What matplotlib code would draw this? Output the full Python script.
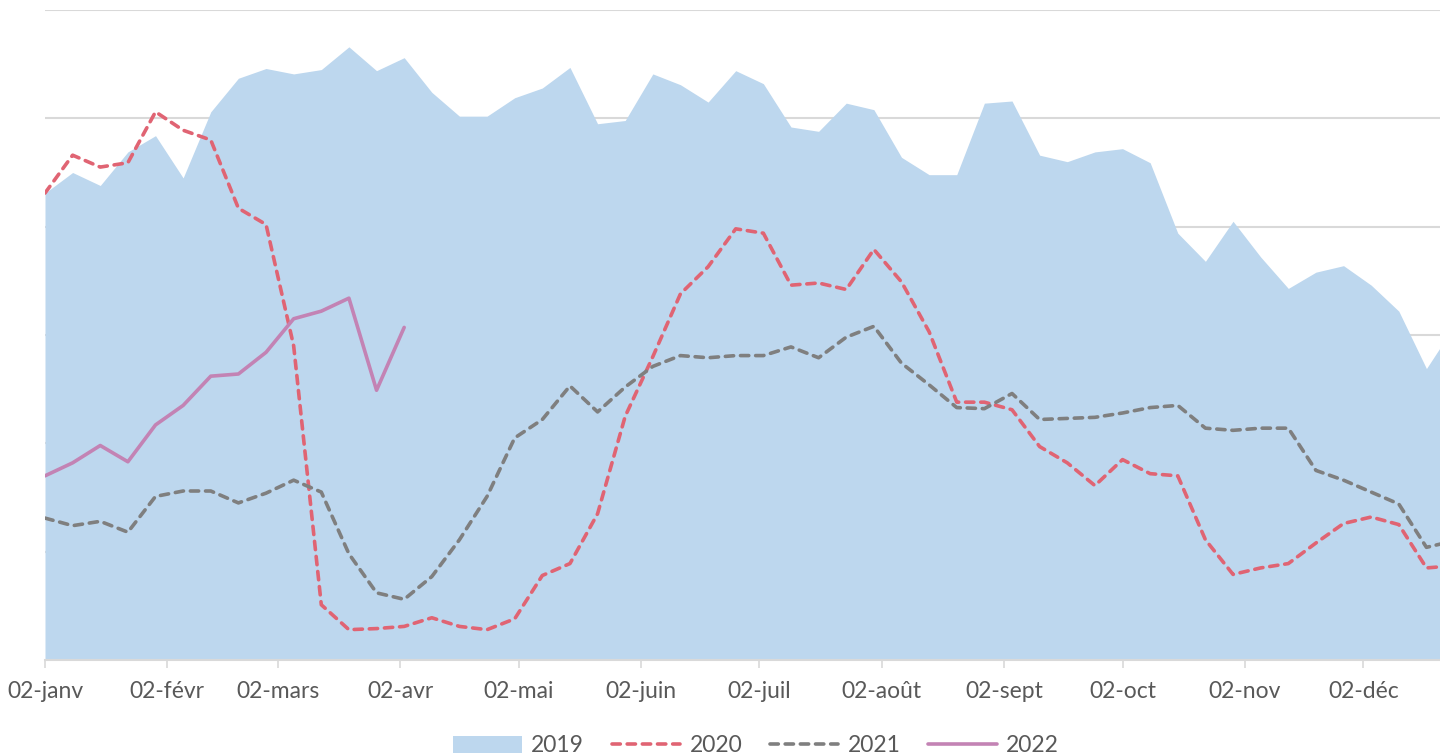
import numpy as np
import matplotlib.pyplot as plt

# weekly values, week 0 = 02-janv
v2019 = [4.31, 4.50, 4.38, 4.69, 4.84, 4.45, 5.06, 5.37, 5.46, 5.41,
         5.45, 5.66, 5.44, 5.56, 5.24, 5.02, 5.02, 5.19, 5.28, 5.47,
         4.95, 4.98, 5.41, 5.31, 5.15, 5.44, 5.32, 4.92, 4.88, 5.14,
         5.08, 4.64, 4.48, 4.48, 5.14, 5.16, 4.66, 4.60, 4.69, 4.72,
         4.59, 3.94, 3.68, 4.05, 3.72, 3.43, 3.58, 3.64, 3.46, 3.22,
         2.69, 3.08]
v2020 = [4.31, 4.66, 4.55, 4.59, 5.06, 4.89, 4.80, 4.17, 4.02, 2.90,
         0.51, 0.28, 0.29, 0.31, 0.39, 0.31, 0.28, 0.38, 0.78, 0.89,
         1.35, 2.25, 2.80, 3.38, 3.63, 3.98, 3.94, 3.46, 3.48, 3.42,
         3.79, 3.49, 3.03, 2.38, 2.38, 2.31, 1.97, 1.82, 1.61, 1.85,
         1.72, 1.70, 1.11, 0.79, 0.85, 0.89, 1.08, 1.26, 1.32, 1.25,
         0.85, 0.87]
v2021 = [1.31, 1.24, 1.28, 1.18, 1.51, 1.56, 1.56, 1.45, 1.54, 1.66,
         1.55, 0.98, 0.62, 0.56, 0.77, 1.11, 1.51, 2.05, 2.22, 2.53,
         2.29, 2.52, 2.71, 2.81, 2.79, 2.81, 2.81, 2.89, 2.79, 2.98,
         3.08, 2.74, 2.54, 2.33, 2.32, 2.46, 2.22, 2.23, 2.24, 2.28,
         2.33, 2.35, 2.14, 2.12, 2.14, 2.14, 1.75, 1.66, 1.55, 1.44,
         1.04, 1.10]
v2022 = [1.70, 1.82, 1.98, 1.83, 2.17, 2.35, 2.62, 2.64, 2.84, 3.15,
         3.22, 3.34, 2.49, 3.07]

tick_days = [0, 31, 59, 90, 120, 151, 181, 212, 243, 273, 304, 334]
tick_labels = ["02-janv", "02-févr", "02-mars", "02-avr", "02-mai", "02-juin",
               "02-juil", "02-août", "02-sept", "02-oct", "02-nov", "02-déc"]

days = np.arange(len(v2019)) * 7

plt.rcParams['font.family'] = ['Lato', 'DejaVu Sans']

fig = plt.figure(figsize=(14.4, 7.56), dpi=100)
ax = fig.add_axes([45 / 1440, 96 / 756, 1395 / 1440, 650 / 756])

ax.fill_between(days, v2019, 0, color="#BDD7EE", lw=0, label="2019", zorder=1)
ax.plot(days[:len(v2020)], v2020, color="#E06473", lw=2.6, ls=(0, (2.3, 1.9)),
        dash_capstyle="round", label="2020", zorder=3)
ax.plot(days[:len(v2021)], v2021, color="#7F7F7F", lw=2.6, ls=(0, (2.3, 1.9)),
        dash_capstyle="round", label="2021", zorder=3)
ax.plot(days[:len(v2022)], v2022, color="#C383B4", lw=2.6,
        solid_capstyle="round", label="2022", zorder=4)

ax.set_xlim(0, 1395 / 3.947)
ax.set_ylim(0, 6)
ax.set_yticks(np.arange(1, 7))
ax.set_yticklabels([])
ax.tick_params(axis="y", length=0)
ax.grid(axis="y", color="#D9D9D9", lw=1.5)
ax.set_axisbelow(True)

ax.set_xticks(tick_days)
ax.set_xticklabels(tick_labels)
ax.tick_params(axis="x", length=6, width=1.2, color="#D9D9D9", pad=9,
               labelsize=16.5, labelcolor="#595959")

for s in ["top", "right", "left"]:
    ax.spines[s].set_visible(False)
ax.spines["bottom"].set_color("#D9D9D9")
ax.spines["bottom"].set_linewidth(1.5)

fig.legend(loc="center", bbox_to_anchor=(0.525, 10 / 756), ncol=4,
           frameon=False, fontsize=16.5, labelcolor="#595959",
           handlelength=3.0, handleheight=0.7, handletextpad=0.4,
           columnspacing=1.2)

fig.savefig("out.png", dpi=100)
